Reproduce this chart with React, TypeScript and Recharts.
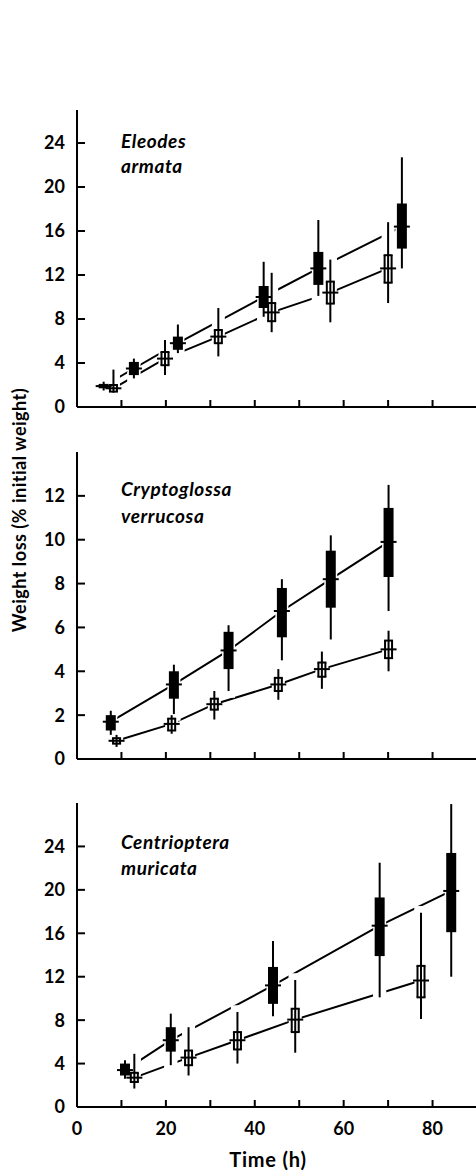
import { ComposedChart, ErrorBar, Line, Scatter, XAxis, YAxis } from "recharts";

// Eleodes armata
const EA_SOLID_TIME = [6, 12.8, 22.7, 42, 54.3, 73.1];
const EA_SOLID_MEAN = [1.9, 3.5, 5.8, 10.0, 12.6, 16.4];
const EA_SOLID_BOX = [[1.7, 2.1], [2.9, 4.1], [5.2, 6.4], [9.0, 11.0], [11.1, 14.1], [14.4, 18.5]];
const EA_SOLID_RANGE = [[1.5, 2.3], [2.6, 4.4], [4.9, 7.5], [8.2, 13.2], [10.1, 17.0], [12.6, 22.7]];
const EA_OPEN_TIME = [8.2, 19.8, 31.8, 43.8, 57, 70];
const EA_OPEN_MEAN = [1.7, 4.4, 6.4, 8.6, 10.4, 12.6];
const EA_OPEN_BOX = [[1.4, 2.0], [3.8, 5.0], [5.8, 7.0], [7.8, 9.45], [9.4, 11.4], [11.3, 13.8]];
const EA_OPEN_RANGE = [[1.3, 3.4], [2.9, 6.1], [4.6, 9.0], [6.8, 12.2], [7.7, 13.4], [9.45, 16.8]];

// Cryptoglossa verrucosa
const CV_SOLID_TIME = [7.6, 21.8, 34.1, 46.1, 57.1, 70.1];
const CV_SOLID_MEAN = [1.7, 3.4, 4.95, 6.75, 8.2, 9.9];
const CV_SOLID_BOX = [[1.3, 2.0], [2.75, 4.0], [4.1, 5.8], [5.55, 7.8], [6.9, 9.5], [8.3, 11.45]];
const CV_SOLID_RANGE = [[1.1, 2.2], [2.05, 4.3], [3.1, 6.1], [4.5, 8.2], [5.45, 10.2], [6.75, 12.5]];
const CV_OPEN_TIME = [8.9, 21.3, 30.9, 45.3, 55.1, 70.1];
const CV_OPEN_MEAN = [0.83, 1.6, 2.5, 3.4, 4.1, 5.0];
const CV_OPEN_BOX = [[0.7, 0.95], [1.3, 1.84], [2.25, 2.75], [3.1, 3.7], [3.75, 4.4], [4.6, 5.4]];
const CV_OPEN_RANGE = [[0.55, 1.1], [1.15, 2.0], [1.8, 3.1], [2.7, 4.1], [3.2, 4.9], [4.0, 5.85]];

// Centrioptera muricata
const CM_SOLID_TIME = [10.8, 21.1, 44.1, 68.1, 84.2];
const CM_SOLID_MEAN = [3.4, 6.15, 11.2, 16.7, 19.9];
const CM_SOLID_BOX = [[2.9, 4.0], [5.1, 7.35], [9.5, 12.9], [13.9, 19.3], [16.1, 23.4]];
const CM_SOLID_RANGE = [[2.6, 4.3], [3.85, 8.6], [8.35, 15.3], [10.1, 22.5], [12.0, 27.9]];
const CM_OPEN_TIME = [12.9, 25.1, 36.1, 49.1, 77.4];
const CM_OPEN_MEAN = [2.7, 4.55, 6.15, 8.05, 11.65];
const CM_OPEN_BOX = [[2.3, 3.15], [3.85, 5.2], [5.3, 6.9], [6.9, 9.05], [10.1, 13.0]];
const CM_OPEN_RANGE = [[1.7, 4.9], [2.9, 7.35], [4.0, 8.75], [5.0, 11.7], [8.1, 17.9]];

const X_TICKS = [0, 10, 20, 30, 40, 50, 60, 70, 80];
const Y_TICKS_24 = [0, 4, 8, 12, 16, 20, 24];
const Y_TICKS_12 = [0, 2, 4, 6, 8, 10, 12];

type Pt = { t: number; mean: number; box: number[]; range: number[] };

function build(time: number[], mean: number[], box: number[][], range: number[][]): Pt[] {
  return time.map((t, i) => ({ t, mean: mean[i], box: box[i], range: range[i] }));
}

const rangeErr = (d: Pt) => [d.mean - d.range[0], d.range[1] - d.mean];
const boxErr = (d: Pt) => [d.mean - d.box[0], d.box[1] - d.mean];

const FONT = "Lato, 'Open Sans', sans-serif";
const tickStyle = { fill: "#000", fontSize: 18, fontWeight: 700, fontFamily: FONT };
const axisLine = { stroke: "#000", strokeWidth: 2 };

const blank = () => <g />;
const dash = (p: any) => (
  <line x1={p.cx - 8} x2={p.cx + 8} y1={p.cy} y2={p.cy} stroke="#000" strokeWidth={2} />
);

interface PanelProps {
  top: number;
  height: number;
  marginTop: number;
  xAxisHeight: number;
  yMax: number;
  yTicks: number[];
  solid: Pt[];
  open: Pt[];
  xLabels: boolean;
}

function Panel({ top, height, marginTop, xAxisHeight, yMax, yTicks, solid, open, xLabels }: PanelProps) {
  return (
    <div style={{ position: "absolute", left: 0, top }}>
      <ComposedChart width={478} height={height} margin={{ top: marginTop, right: 1, bottom: 0, left: 0 }}>
        <XAxis
          type="number"
          dataKey="t"
          domain={[0, 90]}
          ticks={X_TICKS}
          height={xAxisHeight}
          axisLine={axisLine}
          tickLine={axisLine}
          tickSize={-7}
          tickMargin={22}
          tick={tickStyle}
          tickFormatter={(v: number) => (xLabels && v % 20 === 0 ? String(v) : "")}
        />
        <YAxis
          type="number"
          dataKey="mean"
          domain={[0, yMax]}
          ticks={yTicks}
          allowDataOverflow
          width={77}
          axisLine={axisLine}
          tickLine={axisLine}
          tickSize={-8}
          tickMargin={20}
          tick={tickStyle}
        />
        <Line data={solid} dataKey="mean" type="linear" stroke="#000" strokeWidth={2} dot={false} isAnimationActive={false} />
        <Line data={open} dataKey="mean" type="linear" stroke="#000" strokeWidth={2} dot={false} isAnimationActive={false} />
        {/* white halos that break the lines around every marker */}
        <Scatter data={solid} dataKey="mean" shape={blank} isAnimationActive={false}>
          <ErrorBar dataKey={rangeErr} direction="y" width={0} stroke="#fff" strokeWidth={13} strokeLinecap="square" />
        </Scatter>
        <Scatter data={open} dataKey="mean" shape={blank} isAnimationActive={false}>
          <ErrorBar dataKey={rangeErr} direction="y" width={0} stroke="#fff" strokeWidth={13} strokeLinecap="square" />
        </Scatter>
        <Scatter data={solid} dataKey="mean" shape={dash} isAnimationActive={false}>
          <ErrorBar dataKey={rangeErr} direction="y" width={0} stroke="#000" strokeWidth={2} />
          <ErrorBar dataKey={boxErr} direction="y" width={0} stroke="#000" strokeWidth={10} />
        </Scatter>
        <Scatter data={open} dataKey="mean" shape={dash} isAnimationActive={false}>
          <ErrorBar dataKey={rangeErr} direction="y" width={0} stroke="#000" strokeWidth={2} />
          <ErrorBar dataKey={boxErr} direction="y" width={0} stroke="#000" strokeWidth={9} />
          <ErrorBar dataKey={boxErr} direction="y" width={0} stroke="#fff" strokeWidth={5} />
          <ErrorBar dataKey={boxErr} direction="y" width={4.5} stroke="#000" strokeWidth={2} />
        </Scatter>
      </ComposedChart>
    </div>
  );
}

export default function App() {
  const nameStyle = { fontFamily: FONT, fontSize: 19, fontStyle: "italic", fontWeight: 700, letterSpacing: 0.6 } as const;
  return (
    <div style={{ position: "absolute", left: 0, top: 0, width: 476, height: 1174, overflow: "hidden", background: "#fff" }}>
      <Panel
        top={100}
        height={330}
        marginTop={10}
        xAxisHeight={23}
        yMax={27}
        yTicks={Y_TICKS_24}
        solid={build(EA_SOLID_TIME, EA_SOLID_MEAN, EA_SOLID_BOX, EA_SOLID_RANGE)}
        open={build(EA_OPEN_TIME, EA_OPEN_MEAN, EA_OPEN_BOX, EA_OPEN_RANGE)}
        xLabels={false}
      />
      <Panel
        top={440}
        height={342}
        marginTop={12}
        xAxisHeight={23}
        yMax={14}
        yTicks={Y_TICKS_12}
        solid={build(CV_SOLID_TIME, CV_SOLID_MEAN, CV_SOLID_BOX, CV_SOLID_RANGE)}
        open={build(CV_OPEN_TIME, CV_OPEN_MEAN, CV_OPEN_BOX, CV_OPEN_RANGE)}
        xLabels={false}
      />
      <Panel
        top={790}
        height={384}
        marginTop={13}
        xAxisHeight={67}
        yMax={28}
        yTicks={Y_TICKS_24}
        solid={build(CM_SOLID_TIME, CM_SOLID_MEAN, CM_SOLID_BOX, CM_SOLID_RANGE)}
        open={build(CM_OPEN_TIME, CM_OPEN_MEAN, CM_OPEN_BOX, CM_OPEN_RANGE)}
        xLabels
      />
      <svg width={476} height={1174} style={{ position: "absolute", left: 0, top: 0, pointerEvents: "none" }}>
        <text x={121} y={148} style={nameStyle}>Eleodes</text>
        <text x={121} y={173} style={nameStyle}>armata</text>
        <text x={121} y={496} style={nameStyle}>Cryptoglossa</text>
        <text x={121} y={523} style={nameStyle}>verrucosa</text>
        <text x={121} y={849} style={nameStyle}>Centrioptera</text>
        <text x={121} y={875} style={nameStyle}>muricata</text>
        <text
          x={0}
          y={0}
          transform="translate(19 510) rotate(-90)"
          textAnchor="middle"
          dominantBaseline="central"
          style={{ fontFamily: FONT, fontSize: 18, fontWeight: 700, letterSpacing: 0.5 }}
        >
          Weight loss (% initial weight)
        </text>
        <text x={268} y={1167} textAnchor="middle" style={{ fontFamily: FONT, fontSize: 20, fontWeight: 700, letterSpacing: 0.8 }}>
          Time (h)
        </text>
      </svg>
    </div>
  );
}
